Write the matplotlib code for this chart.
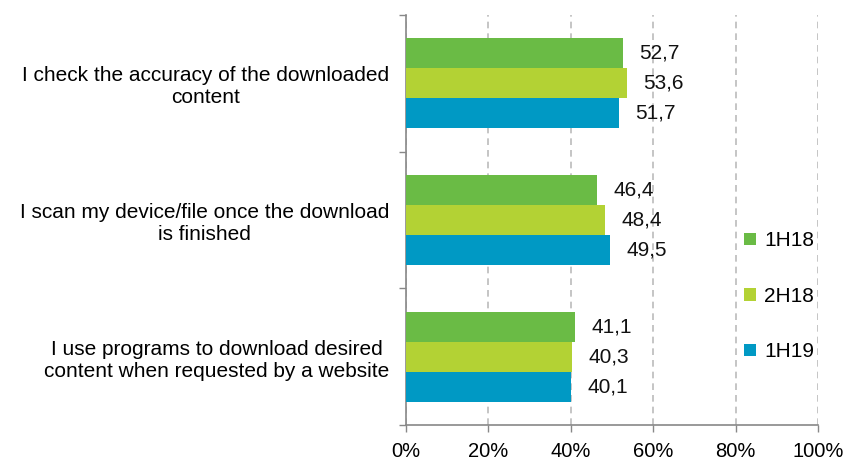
import matplotlib
matplotlib.use("Agg")
import matplotlib.pyplot as plt
import numpy as np

plt.rcParams['font.family'] = ['Liberation Sans', 'DejaVu Sans']

categories = ["I check the accuracy of the downloaded\ncontent",
              "I scan my device/file once the download\nis finished",
              "I use programs to download desired\ncontent when requested by a website"]
series_names = ["1H18", "2H18", "1H19"]
values_1H18 = [52.7, 46.4, 41.1]
values_2H18 = [53.6, 48.4, 40.3]
values_1H19 = [51.7, 49.5, 40.1]
colors = ["#6ABB45", "#B3D234", "#0099C4"]
xticks = [0, 20, 40, 60, 80, 100]

fig = plt.figure(figsize=(8.5, 4.59), dpi=100)
ax = fig.add_axes([0.4776, 0.0741, 0.4848, 0.8932])

y = np.arange(len(categories))
h = 0.22
for i, (vals, c, name) in enumerate(zip([values_1H18, values_2H18, values_1H19], colors, series_names)):
    pos = y + (i - 1) * h
    ax.barh(pos, vals, height=h, color=c, label=name, zorder=3)
    for p, v in zip(pos, vals):
        ax.text(v + 4.0, p, f"{v:.1f}".replace('.', ','), va='center', ha='left',
                fontsize=15, color='#111111')

ax.set_xlim(0, 100)
ax.set_ylim(2.5, -0.5)
ax.set_xticks(xticks)
ax.set_xticklabels([f"{t}%" for t in xticks], fontsize=14.5)
ax.set_yticks(y)
ax.set_yticklabels(categories, fontsize=15)
for lbl in ax.get_yticklabels():
    lbl.set_multialignment('center')
ax.tick_params(axis='y', which='major', length=0, pad=12)
ax.set_yticks([-0.5, 0.5, 1.5, 2.5], minor=True)
ax.tick_params(axis='y', which='minor', length=5, color='#888888', width=1)
ax.tick_params(axis='x', which='major', length=5, color='#888888', width=1, pad=7)

for s in ['top', 'right']:
    ax.spines[s].set_visible(False)
for s in ['left', 'bottom']:
    ax.spines[s].set_color('#888888')
    ax.spines[s].set_linewidth(1.2)

ax.grid(axis='x', color='#BBBBBB', linestyle=(0, (4, 3)), linewidth=1.2, zorder=0)

leg = ax.legend(loc='center left', bbox_to_anchor=(0.776, 0.314), frameon=False,
                fontsize=15, handlelength=0.55, handleheight=0.55, handletextpad=0.4,
                labelspacing=1.75)

fig.savefig("out.png", dpi=100)
